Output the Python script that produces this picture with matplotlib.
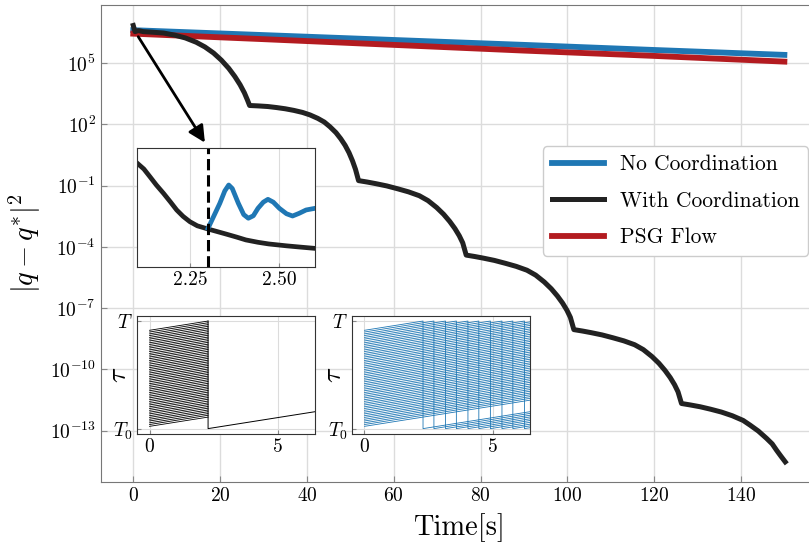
import matplotlib as mpl
mpl.use('Agg')
import matplotlib.pyplot as plt
from matplotlib.ticker import NullLocator
import numpy as np

plt.rcParams['font.family'] = 'serif'
plt.rcParams['font.serif'] = ['cmr10']
plt.rcParams['mathtext.fontset'] = 'cm'
plt.rcParams['axes.formatter.use_mathtext'] = True

# main chart: |q - q*|^2 on a log scale (values as log10 exponents)
blue_t = [0, 30, 60, 90, 120, 150]
blue_exp = [6.62, 6.38, 6.14, 5.90, 5.65, 5.41]

red_t = [0, 30, 60, 90, 120, 150]
red_exp = [6.45, 6.18, 5.90, 5.62, 5.36, 5.08]

black_t = [0, 0.4, 1.2, 2.3, 4.5, 7, 9.5, 12, 14.5, 16.5, 18.5, 20.3, 22, 23.4, 24.6, 25.6, 26.3, 26.8,
           28.8, 31, 33, 35, 37, 39, 40.7, 42.5, 44, 45.3, 46.7, 47.8, 48.8, 49.7, 50.5, 51.2, 51.9,
           53.9, 55.9, 58.4, 60.9, 63.4, 65.9, 67.9, 69.9, 71.5, 72.9, 74.1, 75.1, 75.9, 76.7,
           78.7, 80.7, 83.2, 85.7, 88.2, 90.7, 92.7, 94.7, 96.3, 97.7, 98.9, 99.9, 100.7, 101.5,
           103.5, 105.5, 108, 110.5, 113, 115.5, 117.5, 119.5, 121.1, 122.5, 123.7, 124.7, 125.5, 126.3,
           128.3, 130.6, 133, 135.5, 138, 140.5, 142.1, 144, 145.9, 147.2, 148.2, 149.2, 150.2]
black_exp = [6.85, 6.55, 6.6, 6.55, 6.52, 6.48, 6.38, 6.24, 6.03, 5.80, 5.50, 5.15, 4.75, 4.35, 3.95, 3.55, 3.2, 2.93,
             2.91, 2.88, 2.83, 2.77, 2.69, 2.59, 2.47, 2.30, 2.12, 1.89, 1.60, 1.30, 0.98, 0.62, 0.22, -0.20, -0.75,
             -0.82, -0.90, -1.01, -1.15, -1.30, -1.49, -1.73, -2.07, -2.40, -2.75, -3.10, -3.45, -3.80, -4.40,
             -4.47, -4.55, -4.66, -4.80, -4.95, -5.14, -5.38, -5.72, -6.05, -6.40, -6.75, -7.10, -7.45, -8.05,
             -8.12, -8.20, -8.31, -8.45, -8.60, -8.79, -9.03, -9.37, -9.70, -10.05, -10.40, -10.75, -11.10, -11.67,
             -11.74, -11.83, -11.95, -12.09, -12.27, -12.50, -12.73, -13.02, -13.38, -13.65, -13.96, -14.25, -14.53]

# zoom inset around t = 2.3 (arbitrary units)
zoom_black_t = [2.10, 2.12, 2.137, 2.155, 2.175, 2.195, 2.212, 2.23, 2.249, 2.27,
                2.30, 2.325, 2.35, 2.38, 2.406, 2.44, 2.47, 2.52, 2.56, 2.598]
zoom_black_v = [0.878, 0.825, 0.760, 0.690, 0.620, 0.545, 0.479, 0.425, 0.380, 0.345,
                0.318, 0.297, 0.276, 0.250, 0.226, 0.206, 0.192, 0.176, 0.165, 0.155]
zoom_blue_t = [2.30, 2.315, 2.333, 2.347, 2.358, 2.368, 2.385, 2.40, 2.413, 2.427,
               2.44, 2.455, 2.468, 2.483, 2.50, 2.52, 2.537, 2.555, 2.575, 2.60]
zoom_blue_v = [0.324, 0.42, 0.535, 0.64, 0.690, 0.660, 0.535, 0.44, 0.409, 0.430,
               0.493, 0.545, 0.569, 0.545, 0.493, 0.447, 0.428, 0.450, 0.479, 0.493]
switch_time = 2.3

# clock insets: initial phases (T0 = 0, T = 1), clock rate and time window
phases = [0.021, 0.038, 0.054, 0.071, 0.087, 0.104, 0.120, 0.137, 0.153, 0.170,
          0.187, 0.203, 0.220, 0.236, 0.253, 0.269, 0.286, 0.302, 0.319, 0.335,
          0.352, 0.368, 0.385, 0.402, 0.418, 0.435, 0.451, 0.468, 0.484, 0.501,
          0.517, 0.534, 0.550, 0.567, 0.583, 0.600, 0.617, 0.633, 0.650, 0.666,
          0.683, 0.699, 0.716, 0.732, 0.749, 0.765, 0.782, 0.798, 0.815, 0.832,
          0.848, 0.865, 0.881, 0.898, 0.914]
clock_rate = 0.0377
clock_t_end = 6.45

c_blue = '#1f77b4'
c_red = '#b31b20'
c_black = '#222222'
grid_c = '#dcdcdc'

fig = plt.figure(figsize=(8.09, 5.45), dpi=100)
ax = fig.add_axes([0.1245, 0.1162, 0.8853, 0.8741])

h_blue, = ax.plot(blue_t, 10.0 ** np.array(blue_exp), color=c_blue, lw=4.2)
h_red, = ax.plot(red_t, 10.0 ** np.array(red_exp), color=c_red, lw=4.2)
h_black, = ax.plot(black_t, 10.0 ** np.array(black_exp), color=c_black, lw=3.6)

ax.set_yscale('log')
ax.set_xlim(-7.5, 157.5)
ax.set_ylim(10 ** -15.5, 10 ** 7.84)
ax.set_yticks([1e-13, 1e-10, 1e-7, 1e-4, 1e-1, 1e2, 1e5])
ax.yaxis.set_minor_locator(NullLocator())
ax.set_xticks([0, 20, 40, 60, 80, 100, 120, 140])
ax.grid(True, color=grid_c, lw=1)
ax.tick_params(direction='in', length=4, labelsize=14, color='#888888')
for s in ax.spines.values():
    s.set_color('#777777')
ax.set_xlabel('Time[s]', fontsize=20.5, labelpad=6)
ax.set_ylabel(r'$|q-q^{*}|^2$', fontsize=20.5, labelpad=5)

ax.annotate('', xy=(16.5, 10 ** 1.11), xytext=(1.15, 10 ** 6.3),
            arrowprops=dict(arrowstyle='-|>', color='black', lw=2, mutation_scale=25,
                            shrinkA=0, shrinkB=0))

leg = ax.legend([h_blue, h_black, h_red], ['No Coordination', 'With Coordination', 'PSG Flow'],
                loc='upper right', bbox_to_anchor=(0.9876, 0.7040), borderaxespad=0,
                fontsize=15.5, handlelength=2.42, handletextpad=0.74, labelspacing=0.78,
                borderpad=0.4, framealpha=1, edgecolor='#cccccc')


def style_inset(a):
    a.grid(True, color=grid_c, lw=0.8)
    a.tick_params(direction='in', length=3, labelsize=14, color='#888888', pad=3)
    for s in a.spines.values():
        s.set_color('#333333')


# inset: zoom on the switching instant
ax1 = fig.add_axes([0.169, 0.5107, 0.2204, 0.2172])
ax1.plot(zoom_black_t, zoom_black_v, color=c_black, lw=3.4)
ax1.plot(zoom_blue_t, zoom_blue_v, color=c_blue, lw=3.4)
ax1.axvline(switch_time, color='black', ls='--', lw=2.2)
ax1.set_xlim(2.1, 2.6)
ax1.set_ylim(0, 1)
ax1.set_xticks([2.25, 2.50])
ax1.set_xticklabels(['2.25', '2.50'])
ax1.set_yticks([])
style_inset(ax1)


def clock_axes(a):
    a.set_xlim(-0.5, clock_t_end)
    a.set_ylim(-0.05, 1.05)
    a.set_xticks([0, 5])
    a.set_yticks([0, 1])
    a.set_yticklabels([r'$T_0$', r'$T$'])
    a.set_ylabel(r'$\tau$', fontsize=20)
    a.yaxis.set_label_coords(-0.025, 0.5)
    style_inset(a)


# with coordination: every clock is reset when the first one reaches T
ax2 = fig.add_axes([0.169, 0.2037, 0.2204, 0.2171])
t_sync = (1 - max(phases)) / clock_rate
for p in phases:
    ax2.plot([0, t_sync], [p, p + clock_rate * t_sync], color='black', lw=0.6)
ax2.plot([t_sync, t_sync, clock_t_end], [1, 0, clock_rate * (clock_t_end - t_sync)],
         color='black', lw=0.7)
clock_axes(ax2)

# no coordination: each clock wraps on its own
ax3 = fig.add_axes([0.4347, 0.2037, 0.2204, 0.2171])
for p in phases:
    t_hit = (1 - p) / clock_rate
    if t_hit < clock_t_end:
        ax3.plot([0, t_hit, t_hit, clock_t_end], [p, 1, 0, clock_rate * (clock_t_end - t_hit)],
                 color=c_blue, lw=0.6)
    else:
        ax3.plot([0, clock_t_end], [p, p + clock_rate * clock_t_end], color=c_blue, lw=0.6)
clock_axes(ax3)

fig.savefig('out.png', dpi=100)
